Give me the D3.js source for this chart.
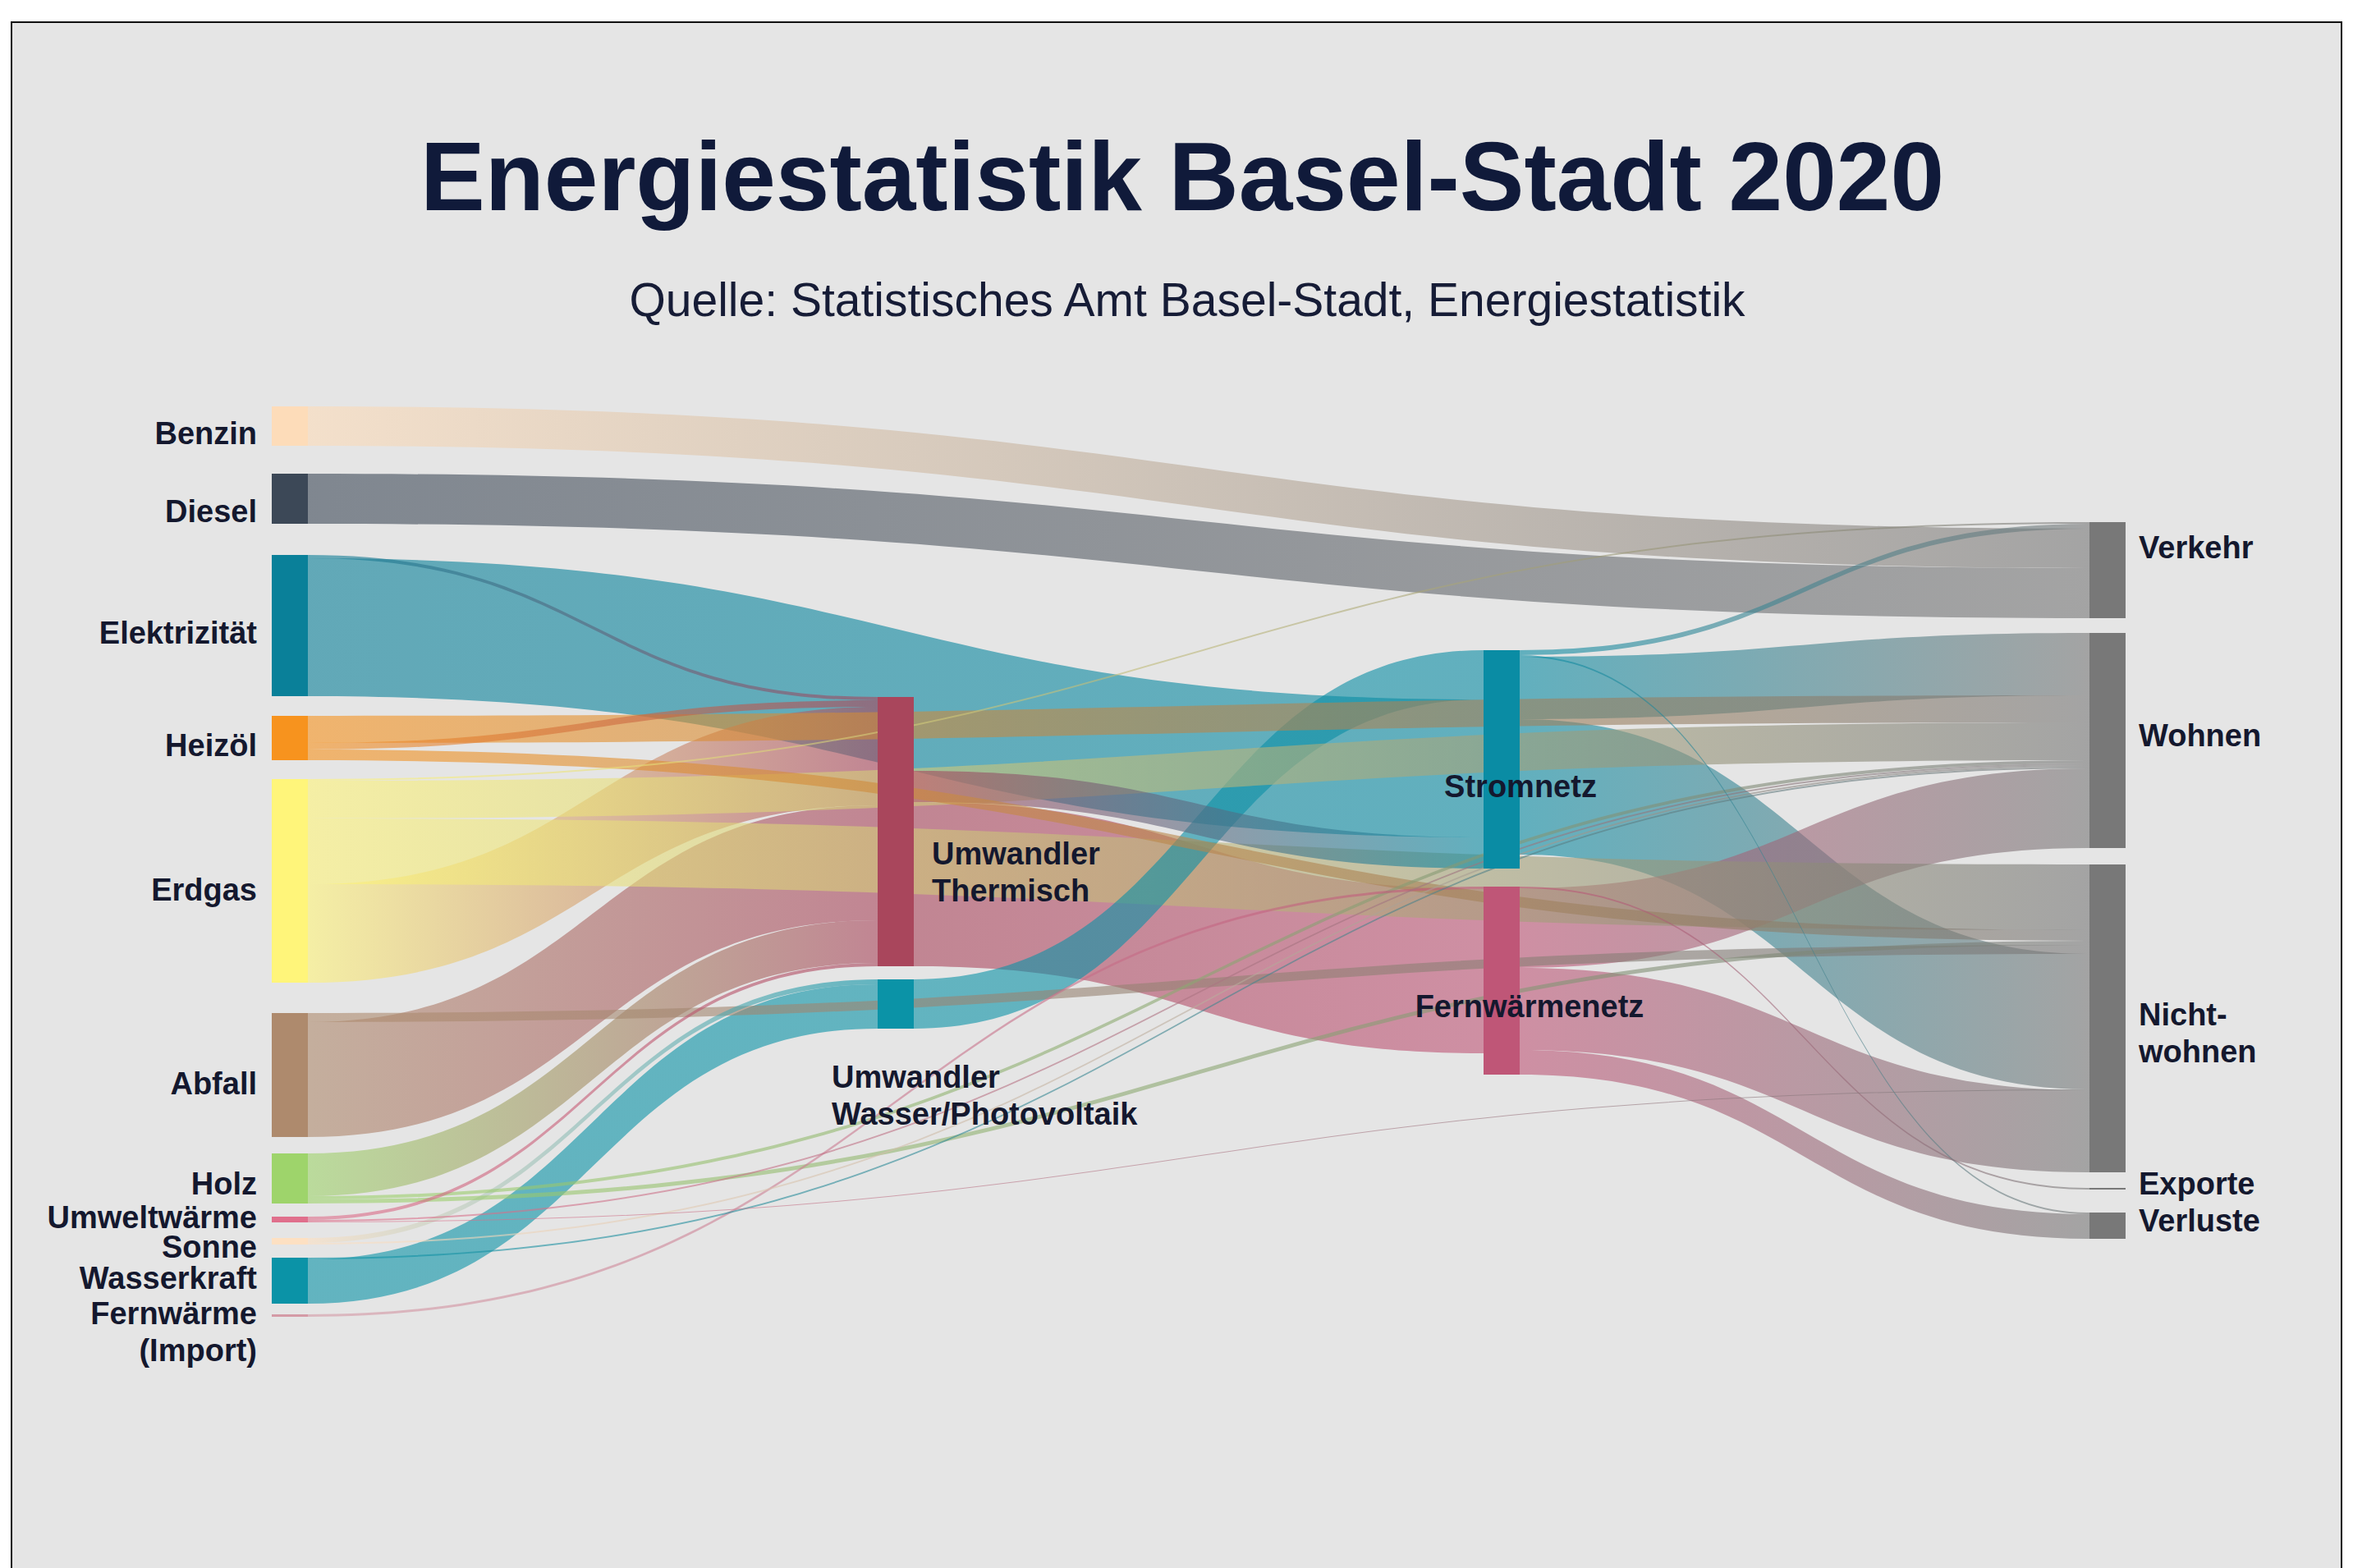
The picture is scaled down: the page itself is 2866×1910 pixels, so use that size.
<!DOCTYPE html>
<html>
<head>
<meta charset="utf-8">
<script src="https://cdn.jsdelivr.net/npm/d3@7"></script>
<style>
html, body { margin: 0; padding: 0; background: #ffffff; }
svg { display: block; }
text { font-family: "Liberation Sans", Arial, Helvetica, sans-serif; }
</style>
</head>
<body>
<svg id="chart" width="2866" height="1910"></svg>
<script>
// ---------------- DATA ----------------
const chartTitle = "Energiestatistik Basel-Stadt 2020";
const chartSubtitle = "Quelle: Statistisches Amt Basel-Stadt, Energiestatistik";

// nodes (categories) and their column (stage)
const nodeNames = [
  "Benzin", "Diesel", "Elektrizität", "Heizöl", "Erdgas", "Abfall", "Holz",
  "Umweltwärme", "Sonne", "Wasserkraft", "Fernwärme (Import)",
  "Umwandler Thermisch", "Umwandler Wasser/Photovoltaik",
  "Stromnetz", "Fernwärmenetz",
  "Verkehr", "Wohnen", "Nichtwohnen", "Exporte", "Verluste"
];
const nodeStage = [0,0,0,0,0,0,0,0,0,0,0, 1,1, 2,2, 3,3,3,3,3];
const nodeLabelLines = [
  ["Benzin"], ["Diesel"], ["Elektrizität"], ["Heizöl"], ["Erdgas"], ["Abfall"], ["Holz"],
  ["Umweltwärme"], ["Sonne"], ["Wasserkraft"], ["Fernwärme", "(Import)"],
  ["Umwandler", "Thermisch"], ["Umwandler", "Wasser/Photovoltaik"],
  ["Stromnetz"], ["Fernwärmenetz"],
  ["Verkehr"], ["Wohnen"], ["Nicht-", "wohnen"], ["Exporte"], ["Verluste"]
];

// flows (GWh); array order = stacking order at the source
const linkSource = [
  "Benzin", "Diesel",
  "Elektrizität", "Elektrizität",
  "Heizöl", "Heizöl", "Heizöl",
  "Erdgas", "Erdgas", "Erdgas", "Erdgas",
  "Abfall", "Abfall",
  "Holz", "Holz", "Holz",
  "Umweltwärme", "Umweltwärme", "Umweltwärme",
  "Sonne", "Sonne",
  "Wasserkraft", "Wasserkraft",
  "Fernwärme (Import)",
  "Umwandler Thermisch", "Umwandler Thermisch",
  "Umwandler Wasser/Photovoltaik",
  "Stromnetz", "Stromnetz", "Stromnetz", "Stromnetz",
  "Fernwärmenetz", "Fernwärmenetz", "Fernwärmenetz", "Fernwärmenetz"
];
const linkTarget = [
  "Verkehr", "Verkehr",
  "Umwandler Thermisch", "Stromnetz",
  "Wohnen", "Umwandler Thermisch", "Nichtwohnen",
  "Verkehr", "Wohnen", "Nichtwohnen", "Umwandler Thermisch",
  "Nichtwohnen", "Umwandler Thermisch",
  "Umwandler Thermisch", "Wohnen", "Nichtwohnen",
  "Umwandler Thermisch", "Wohnen", "Nichtwohnen",
  "Umwandler Wasser/Photovoltaik", "Wohnen",
  "Wohnen", "Umwandler Wasser/Photovoltaik",
  "Fernwärmenetz",
  "Stromnetz", "Fernwärmenetz",
  "Stromnetz",
  "Verkehr", "Verluste", "Wohnen", "Nichtwohnen",
  "Exporte", "Wohnen", "Nichtwohnen", "Verluste"
];
const linkValue = [
  240, 305,
  20, 840,
  165, 40, 65,
  10, 230, 400, 600,
  55, 700,
  260, 20, 25,
  20, 10, 5,
  30, 10,
  10, 270,
  15,
  190, 1000,
  300,
  30, 10, 380, 825,
  10, 485, 500, 150
];

// stacking order of incoming flows at each target (top to bottom)
const inflowOrder = {
  "Umwandler Thermisch": ["Elektrizität", "Heizöl", "Erdgas", "Abfall", "Holz", "Umweltwärme"],
  "Umwandler Wasser/Photovoltaik": ["Sonne", "Wasserkraft"],
  "Stromnetz": ["Umwandler Wasser/Photovoltaik", "Elektrizität", "Umwandler Thermisch"],
  "Fernwärmenetz": ["Fernwärme (Import)", "Umwandler Thermisch"],
  "Verkehr": ["Erdgas", "Stromnetz", "Benzin", "Diesel"],
  "Wohnen": ["Stromnetz", "Heizöl", "Erdgas", "Holz", "Umweltwärme", "Sonne", "Wasserkraft", "Fernwärmenetz"],
  "Nichtwohnen": ["Erdgas", "Heizöl", "Holz", "Abfall", "Stromnetz", "Umweltwärme", "Fernwärmenetz"],
  "Exporte": ["Fernwärmenetz"],
  "Verluste": ["Stromnetz", "Fernwärmenetz"]
};

// ---------------- STYLE / LAYOUT ----------------
const nodeColor = {
  "Benzin": "#fddcb9", "Diesel": "#3c4857", "Elektrizität": "#0a8099", "Heizöl": "#f7931e",
  "Erdgas": "#fff57a", "Abfall": "#ae8a6d", "Holz": "#9ed46b", "Umweltwärme": "#e06f8c",
  "Sonne": "#fde0c2", "Wasserkraft": "#0b93a7", "Fernwärme (Import)": "#d49aa6",
  "Umwandler Thermisch": "#a9465c", "Umwandler Wasser/Photovoltaik": "#0b93a7",
  "Stromnetz": "#0a8ca4", "Fernwärmenetz": "#bf5677",
  "Verkehr": "#787878", "Wohnen": "#787878", "Nichtwohnen": "#787878",
  "Exporte": "#787878", "Verluste": "#787878"
};
const layout = {
  width: 2866, height: 1910,
  frame: { x: 14, y: 27, w: 2838, h: 1910 },
  bg: "#e5e5e5",
  stageX: [331, 2545],
  nodeWidth: 44,
  pxPerGWh: 0.2,
  stageTop: [495, 849, 792, 636],
  stageGaps: [
    [34, 38, 24, 23, 37, 20, 16, 19, 16, 13],
    [16],
    [22],
    [18, 20, 19, 28]
  ],
  outAlignBottom: ["Umwandler Thermisch"],
  linkOpacity: 0.6,
  labelSize: 38,
  lineStep: 45
};
// label placement relative to node: side, vertical nudge (px), horizontal offset
const labelPlace = {
  "Benzin": ["left", 9], "Diesel": ["left", 15], "Elektrizität": ["left", 9], "Heizöl": ["left", 9],
  "Erdgas": ["left", 11], "Abfall": ["left", 10], "Holz": ["left", 6], "Umweltwärme": ["left", -3],
  "Sonne": ["left", 7], "Wasserkraft": ["left", -3], "Fernwärme (Import)": ["left", -3],
  "Umwandler Thermisch": ["right", 27, 22], "Umwandler Wasser/Photovoltaik": ["below", 89, -56],
  "Stromnetz": ["middle", 33, 23], "Fernwärmenetz": ["middle", 31, 34],
  "Verkehr": ["right", -28], "Wohnen": ["right", -6], "Nichtwohnen": ["right", -5],
  "Exporte": ["right", -6], "Verluste": ["right", -6]
};

// ---------------- BUILD GRAPH ----------------
const svg = d3.select("#chart");
const ky = d3.scaleLinear().domain([0, 1000]).range([0, 1000 * layout.pxPerGWh]);
const xStage = d3.scaleLinear().domain([0, 3]).range(layout.stageX);

const nodes = nodeNames.map((name, i) => ({ name, stage: nodeStage[i], lines: nodeLabelLines[i], inL: [], outL: [] }));
const byName = new Map(nodes.map(n => [n.name, n]));
const links = linkSource.map((s, i) => ({ source: byName.get(s), target: byName.get(linkTarget[i]), value: linkValue[i], idx: i }));
links.forEach(l => { l.source.outL.push(l); l.target.inL.push(l); });

nodes.forEach(n => {
  n.inV = d3.sum(n.inL, l => l.value);
  n.outV = d3.sum(n.outL, l => l.value);
  n.value = Math.max(n.inV, n.outV);
  n.x0 = xStage(n.stage);
  n.x1 = n.x0 + layout.nodeWidth;
});
// vertical stacking per stage
for (let s = 0; s < 4; s++) {
  const col = nodes.filter(n => n.stage === s);
  let y = layout.stageTop[s];
  col.forEach((n, i) => {
    n.y0 = y;
    n.y1 = y + ky(n.value);
    y = n.y1 + (layout.stageGaps[s][i] || 0);
  });
}
// link offsets at source (array order) and target (inflowOrder)
nodes.forEach(n => {
  let y = layout.outAlignBottom.includes(n.name) ? n.y1 - ky(n.outV) : n.y0;
  n.outL.forEach(l => { l.sy0 = y; y += ky(l.value); l.sy1 = y; });
  const order = inflowOrder[n.name];
  const inSorted = order ? n.inL.slice().sort((a, b) => order.indexOf(a.source.name) - order.indexOf(b.source.name)) : n.inL;
  y = n.y0;
  inSorted.forEach(l => { l.ty0 = y; y += ky(l.value); l.ty1 = y; });
});

// ---------------- DRAW ----------------
svg.append("rect").attr("x", 0).attr("y", 0).attr("width", layout.width).attr("height", layout.height).attr("fill", "#ffffff");
svg.append("rect")
  .attr("x", layout.frame.x).attr("y", layout.frame.y)
  .attr("width", layout.frame.w).attr("height", layout.frame.h)
  .attr("fill", layout.bg).attr("stroke", "#111111").attr("stroke-width", 2);

svg.append("text").attr("x", 1440).attr("y", 256).attr("text-anchor", "middle")
  .attr("font-size", 118).attr("font-weight", "bold").attr("fill", "#101a3a").text(chartTitle);
svg.append("text").attr("x", 1446).attr("y", 385).attr("text-anchor", "middle")
  .attr("font-size", 57).attr("fill", "#161c36").text(chartSubtitle);

const defs = svg.append("defs");
links.forEach(l => {
  const g = defs.append("linearGradient").attr("id", "lg" + l.idx)
    .attr("gradientUnits", "userSpaceOnUse")
    .attr("x1", l.source.x1).attr("x2", l.target.x0).attr("y1", 0).attr("y2", 0);
  g.append("stop").attr("offset", "0%").attr("stop-color", nodeColor[l.source.name]);
  g.append("stop").attr("offset", "100%").attr("stop-color", nodeColor[l.target.name]);
});

function ribbon(l) {
  const x0 = l.source.x1, x1 = l.target.x0, xm = (x0 + x1) / 2;
  const p = d3.path();
  p.moveTo(x0, l.sy0);
  p.bezierCurveTo(xm, l.sy0, xm, l.ty0, x1, l.ty0);
  p.lineTo(x1, l.ty1);
  p.bezierCurveTo(xm, l.ty1, xm, l.sy1, x0, l.sy1);
  p.closePath();
  return p.toString();
}

const drawOrder = links.slice().sort((a, b) => b.value - a.value);
svg.append("g").selectAll("path").data(drawOrder).join("path")
  .attr("d", ribbon)
  .attr("fill", l => `url(#lg${l.idx})`)
  .attr("fill-opacity", layout.linkOpacity);

svg.append("g").selectAll("rect").data(nodes).join("rect")
  .attr("x", n => n.x0).attr("y", n => n.y0)
  .attr("width", layout.nodeWidth).attr("height", n => Math.max(2, n.y1 - n.y0))
  .attr("fill", n => nodeColor[n.name]);

const lab = svg.append("g").attr("font-size", layout.labelSize).attr("font-weight", "bold").attr("fill", "#14182e");
nodes.forEach(n => {
  const [side, dy, dx] = labelPlace[n.name];
  const cy = (n.y0 + n.y1) / 2 + dy;
  let x, anchor;
  if (side === "left") { x = n.x0 - 18; anchor = "end"; }
  else if (side === "right") { x = n.x1 + (dx !== undefined ? dx : 16); anchor = "start"; }
  else if (side === "below") { x = n.x0 + dx; anchor = "start"; }
  else { x = (n.x0 + n.x1) / 2 + dx; anchor = "middle"; }
  const t = lab.append("text").attr("text-anchor", anchor);
  n.lines.forEach((line, i) => {
    t.append("tspan").attr("x", x).attr("y", cy + i * layout.lineStep).attr("dy", "0.35em").text(line);
  });
});
</script>
</body>
</html>
